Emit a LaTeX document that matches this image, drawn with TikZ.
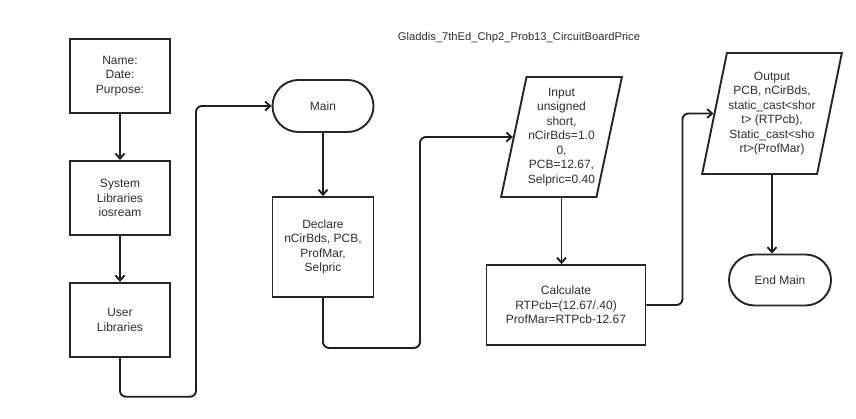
\documentclass[tikz,border=0pt]{standalone}
\usepackage{fontspec}
\setmainfont{Liberation Sans}
\usetikzlibrary{shapes.geometric, shapes.misc, arrows.meta, positioning}

\begin{document}
\begin{tikzpicture}[
    x=1pt, y=-1pt,
    node distance=46pt,
    every node/.style={font=\fontsize{12}{14.5}\selectfont, text=black!82, align=center, inner sep=0pt},
    box/.style={draw=black!85, line width=1.9pt, minimum width=100pt, minimum height=74pt},
    term/.style={draw=black!85, line width=1.9pt, rounded rectangle, minimum width=101pt, minimum height=52pt},
    io/.style={draw=black!85, line width=1.9pt, trapezium, trapezium stretches=true, trapezium left angle=76, trapezium right angle=104},
    arr/.style={-{Straight Barb[length=5pt, width=9pt]}, line width=1.9pt, black!88, rounded corners=6pt}
]
\useasboundingbox (0,0) rectangle (856,419);

\node (title) at (519,38) {\fontsize{11.2}{13}\selectfont Gladdis\_7thEd\_Chp2\_Prob13\_CircuitBoardPrice};

% left column
\node[box] (name) at (120,76) {Name:\\Date:\\Purpose:};
\node[box, below=of name] (syslib) {System\\Libraries\\iosream};
\node[box, below=of syslib] (userlib) {User\\Libraries};

% main
\node[term] (main) at (323,106) {Main};
\node[box, minimum width=101pt, minimum height=100pt] (decl) at (323,247) {Declare\\nCirBds, PCB,\\ProfMar,\\Selpric};

\node[io, minimum width=121pt, minimum height=120pt] (input) at (561.5,137) {Input\\unsigned\\short,\\nCirBds=1.0\\0,\\PCB=12.67,\\Selpric=0.40};
\node[box, minimum width=159pt, minimum height=80pt] (calc) at (566,305) {Calculate\\RTPcb=(12.67/.40)\\ProfMar=RTPcb-12.67};

\node[io, minimum width=140pt, minimum height=121pt, trapezium left angle=74, trapezium right angle=106] (output) at (772,113.5) {Output\\PCB, nCirBds,\\static\_cast<shor\\t> (RTPcb),\\Static\_cast<sho\\rt>(ProfMar)};
\node[term, minimum width=102pt, minimum height=51pt] (endmain) at (780,280) {End Main};

\draw[arr] (name) -- (syslib);
\draw[arr] (syslib) -- (userlib);
\draw[arr] (userlib.south) |- ++(76,39) |- (main.west);
\draw[arr] (main) -- (decl);
\draw[arr] (decl.south) |- ++(97,50) |- (input.west);
\draw[arr] (input.south) -- (calc.north -| input.south);
\draw[arr] (calc.east) -- ++(36,0) |- (output.west);
\draw[arr] (output.south) -- (endmain.north -| output.south);
\end{tikzpicture}
\end{document}
